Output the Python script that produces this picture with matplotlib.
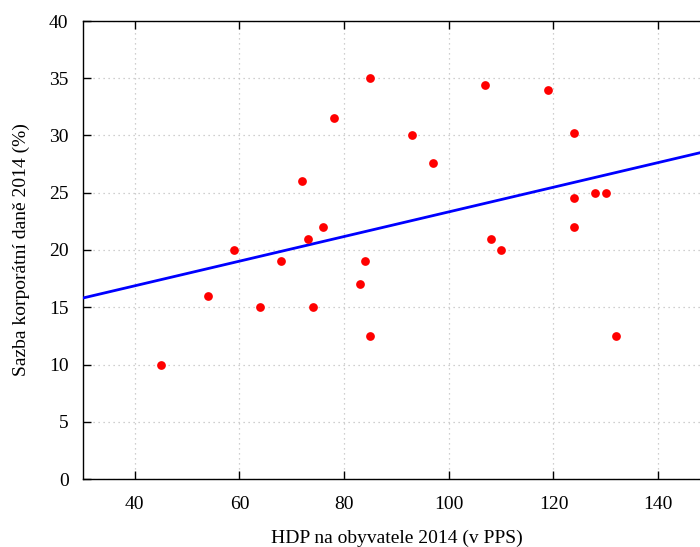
import numpy as np
import matplotlib
matplotlib.use("Agg")
import matplotlib.pyplot as plt

plt.rcParams['font.family'] = ['Liberation Serif', 'DejaVu Serif']

# GDP per capita 2014 (PPS, EU28 = 100) and corporate tax rate 2014 (%)
hdp = [45, 54, 59, 64, 68, 72, 73, 74, 76, 78, 83, 84, 85, 85,
       93, 97, 107, 108, 110, 119, 124, 124, 124, 128, 130, 132]
sazba = [10, 16, 20, 15, 19, 26, 21, 15, 22, 31.5, 17, 19, 35, 12.5,
         30, 27.6, 34.4, 21, 20, 34, 30.2, 24.5, 22, 25, 25, 12.5]

# linear trend line
fit_intercept = 12.57
fit_slope = 0.1076
x_line = np.array([30, 160])

fig = plt.figure(figsize=(7.0, 5.47), dpi=100)
ax = fig.add_axes([82.5 / 700, 68 / 547, 628 / 700, 458 / 547])

ax.plot(x_line, fit_intercept + fit_slope * x_line, color='#0000ff', lw=2.0,
        zorder=3, solid_capstyle='butt')
ax.plot(hdp, sazba, linestyle='none', marker='o', markersize=6.3,
        color='#ff0000', markeredgewidth=0, zorder=4)

ax.set_xlim(30, 150)
ax.set_ylim(0, 40)
ax.set_xticks([40, 60, 80, 100, 120, 140])
ax.set_yticks(range(0, 41, 5))

ax.grid(True, color='#c0c0c0', linestyle=(0, (1, 3)), linewidth=0.9)
ax.set_axisbelow(True)

ax.tick_params(direction='in', length=6, width=1.0, top=True, right=True,
               labelsize=14, pad=10)
ax.tick_params(axis='x', pad=12)
for s in ax.spines.values():
    s.set_linewidth(1.0)

ax.set_xlabel('HDP na obyvatele 2014 (v PPS)', fontsize=14, labelpad=12)
ax.set_ylabel('Sazba korporátní daně 2014 (%)', fontsize=14, labelpad=14)

fig.savefig('out.png', dpi=100)
